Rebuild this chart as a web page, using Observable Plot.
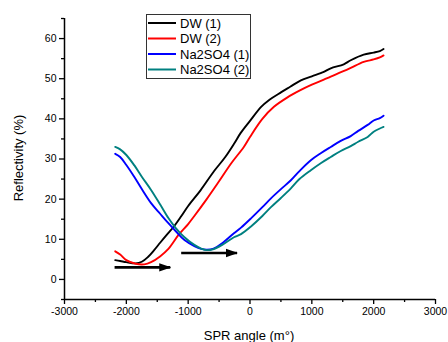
<!DOCTYPE html>
<html>
<head>
<meta charset="utf-8">
<script src="https://cdn.jsdelivr.net/npm/d3@7"></script>
<script src="https://cdn.jsdelivr.net/npm/@observablehq/plot@0.6"></script>
<style>
  html, body { margin: 0; padding: 0; background: #fff; }
  #chart { position: relative; width: 448px; height: 342px; }
  svg { font-family: "Liberation Sans", Arial, sans-serif; }
</style>
</head>
<body>
<div id="chart"></div>
<script>
// ---- data ----
const seriesNames = ["DW (1)", "DW (2)", "Na2SO4 (1)", "Na2SO4 (2)"];
const seriesColors = ["#000000", "#ff0000", "#0000ff", "#008080"];

const angleDW1 = [-2180, -2100, -2000, -1850, -1750, -1650, -1550, -1450, -1330, -1240, -1110, -1000, -800, -580, -400, -250, -150, 0, 180, 300, 500, 650, 823, 1000, 1194, 1306, 1516, 1629, 1839, 2000, 2100, 2160];
const reflDW1  = [4.8, 4.6, 4.3, 4.0, 4.4, 5.6, 7.3, 9.2, 11.4, 13.0, 15.8, 18.3, 22.2, 27.0, 30.5, 34.0, 36.5, 39.5, 43.0, 44.6, 46.6, 48.0, 49.6, 50.6, 51.7, 52.6, 53.6, 54.6, 56.0, 56.5, 56.9, 57.4];

const angleDW2 = [-2180, -2100, -2000, -1850, -1710, -1600, -1450, -1320, -1150, -1000, -900, -700, -520, -300, -100, 0, 200, 387, 600, 823, 1000, 1194, 1306, 1500, 1629, 1839, 2000, 2100, 2160];
const reflDW2  = [7.0, 6.2, 4.8, 3.9, 3.75, 4.3, 5.8, 7.6, 11.2, 13.8, 15.8, 20.0, 24.0, 29.0, 33.0, 35.5, 40.0, 43.0, 45.3, 47.2, 48.5, 49.8, 50.5, 51.8, 52.7, 54.2, 54.8, 55.3, 55.8];

const angleNa1 = [-2180, -2100, -2000, -1870, -1750, -1600, -1450, -1320, -1200, -1060, -900, -790, -700, -600, -450, -260, -145, 16, 200, 339, 500, 661, 800, 984, 1150, 1306, 1468, 1629, 1750, 1903, 2000, 2100, 2160];
const reflNa1  = [31.3, 30.5, 28.5, 25.5, 22.5, 19.0, 16.3, 14.0, 12.0, 9.8, 8.3, 7.6, 7.4, 7.6, 9.0, 11.5, 12.9, 15.2, 18.0, 20.2, 22.5, 24.7, 27.0, 29.7, 31.5, 33.0, 34.5, 35.7, 37.0, 38.5, 39.6, 40.2, 40.8];

const angleNa2 = [-2180, -2100, -2000, -1870, -1750, -1600, -1450, -1320, -1200, -1060, -900, -790, -700, -600, -450, -260, -145, 16, 200, 339, 500, 661, 800, 984, 1150, 1306, 1468, 1629, 1750, 1903, 2000, 2100, 2160];
const reflNa2  = [33.0, 32.4, 31.0, 28.4, 25.6, 22.3, 18.6, 15.3, 12.8, 10.5, 8.6, 7.7, 7.3, 7.5, 8.6, 10.5, 11.3, 13.2, 15.8, 18.0, 20.3, 22.7, 25.0, 27.2, 29.0, 30.5, 32.0, 33.2, 34.3, 35.5, 36.8, 37.6, 38.0];

// annotation arrows (start angle, end angle, reflectivity)
const arrowStart = [-2190, -1113];
const arrowEnd   = [-1290, -210];
const arrowLevel = [3.0, 6.6];

const xTicks = [-3000, -2000, -1000, 0, 1000, 2000, 3000];
const xMinor = [-2500, -1500, -500, 500, 1500, 2500];
const yTicks = [0, 10, 20, 30, 40, 50, 60];
const yMinor = [-5, 5, 15, 25, 35, 45, 55, 65];

// ---- build tables ----
const angles = [angleDW1, angleDW2, angleNa1, angleNa2];
const refls = [reflDW1, reflDW2, reflNa1, reflNa2];
const rows = [];
seriesNames.forEach((name, s) => {
  angles[s].forEach((a, i) => rows.push({series: name, angle: a, refl: refls[s][i]}));
});
const arrows = arrowStart.map((a, i) => ({x1: a, x2: arrowEnd[i], y: arrowLevel[i]}));

function headMarker(color, context) {
  const m = context.document.createElementNS("http://www.w3.org/2000/svg", "marker");
  m.setAttribute("viewBox", "0 -5 12 10");
  m.setAttribute("markerUnits", "userSpaceOnUse");
  m.setAttribute("markerWidth", "12");
  m.setAttribute("markerHeight", "10");
  m.setAttribute("refX", "11");
  m.setAttribute("refY", "0");
  m.setAttribute("orient", "auto");
  const p = context.document.createElementNS("http://www.w3.org/2000/svg", "path");
  p.setAttribute("d", "M0,-4.2L12,0L0,4.2Z");
  p.setAttribute("fill", color);
  p.setAttribute("stroke", "none");
  m.appendChild(p);
  return m;
}

const W = 448, H = 342;
const plot = Plot.plot({
  width: W,
  height: H,
  marginLeft: 64,
  marginRight: 13,
  marginTop: 18,
  marginBottom: 43,
  style: {fontFamily: '"Liberation Sans", Arial, sans-serif', fontSize: "10.5px", color: "#000", background: "#fff"},
  x: {domain: [-3000, 3000]},
  y: {domain: [-5, 65]},
  color: {domain: seriesNames, range: seriesColors},
  marks: [
    Plot.axisX(xTicks, {tickSize: 5, tickPadding: 3, fontSize: 10.5, label: null, strokeWidth: 1.3, tickFormat: d => String(d).replace("\u2212", "-")}),
    Plot.axisX(xMinor, {tickSize: 3, text: null, label: null, strokeWidth: 1.3}),
    Plot.axisY(yTicks, {tickSize: 5, tickPadding: 3, fontSize: 10.5, label: null, strokeWidth: 1.3, tickFormat: d => String(d)}),
    Plot.axisY(yMinor, {tickSize: 3, text: null, label: null, strokeWidth: 1.3}),
    Plot.ruleY([-5], {stroke: "#000", strokeWidth: 1.5}),
    Plot.ruleX([-3000], {stroke: "#000", strokeWidth: 1.5}),
    Plot.line(rows, {x: "angle", y: "refl", z: "series", stroke: "series", strokeWidth: 1.9, curve: "catmull-rom"}),
    Plot.link(arrows, {x1: "x1", x2: "x2", y1: "y", y2: "y", stroke: "#000", strokeWidth: 2.6, markerEnd: headMarker})
  ]
});

const svg = d3.select(plot);
// axis titles
svg.append("text")
  .attr("x", 249).attr("y", 340)
  .attr("text-anchor", "middle")
  .attr("font-size", 13)
  .attr("fill", "#000")
  .text("SPR angle (m°)");
svg.append("text")
  .attr("transform", "translate(23,158) rotate(-90)")
  .attr("text-anchor", "middle")
  .attr("font-size", 13)
  .attr("fill", "#000")
  .text("Reflectivity (%)");

// legend
const lg = svg.append("g").attr("transform", "translate(146,14)").attr("text-anchor", "start");
lg.append("rect").attr("x", 0.5).attr("y", 0.5).attr("width", 104).attr("height", 64)
  .attr("fill", "#fff").attr("stroke", "#333").attr("stroke-width", 1);
seriesNames.forEach((name, i) => {
  const cy = 9 + i * 15.5;
  lg.append("line").attr("x1", 2).attr("x2", 30).attr("y1", cy).attr("y2", cy)
    .attr("stroke", seriesColors[i]).attr("stroke-width", 2);
  lg.append("text").attr("x", 34).attr("y", cy + 4.6)
    .attr("text-anchor", "start")
    .attr("font-size", 13).attr("fill", "#000").text(name);
});

document.getElementById("chart").appendChild(plot);
</script>
</body>
</html>
